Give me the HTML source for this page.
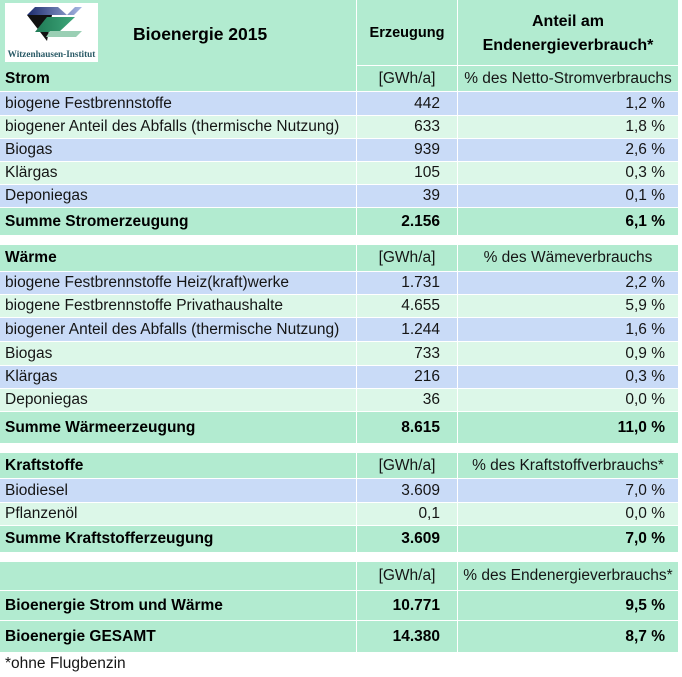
<!DOCTYPE html>
<html>
<head>
<meta charset="utf-8">
<style>
html,body{margin:0;padding:0;background:#fff;}
body{width:682px;height:677px;position:relative;overflow:hidden;font-family:"Liberation Sans",Arial,sans-serif;}
.c{position:absolute;box-sizing:border-box;white-space:nowrap;display:flex;align-items:center;font-size:15.5px;color:#151515;}
.g{background:#b2ebd0;}
.b{background:#c9dbf7;}
.lg{background:#dcf7e8;}
.l{padding-left:5px;}
.n{justify-content:flex-end;padding-right:17px;}
.p{justify-content:flex-end;padding-right:13px;}
.ce{justify-content:center;}
.bd{font-weight:bold;color:#000;}
.c1{left:0;width:356px;}
.c2{left:357px;width:100px;}
.c3{left:458px;width:220px;}
</style>
</head>
<body>

<!-- Header -->
<div class="c g c1" style="top:0;height:91px;"></div>
<div style="position:absolute;left:5px;top:3px;width:93px;height:59px;background:#fff;">
<svg width="93" height="59" viewBox="0 0 93 59">
<defs>
<linearGradient id="bl" x1="0" y1="0" x2="1" y2="0">
<stop offset="0" stop-color="#1b2a6b"/><stop offset="1" stop-color="#a8b8e4"/>
</linearGradient>
<linearGradient id="gr" x1="0" y1="0" x2="1" y2="0">
<stop offset="0" stop-color="#1f7a55"/><stop offset="1" stop-color="#3fa77a"/>
</linearGradient>
</defs>
<polygon points="30,4 77,4 69,12 22,12" fill="url(#bl)"/>
<polygon points="53,4 70,4 62,12" fill="#fff"/>
<polygon points="22,12 47,12 42,38" fill="#111"/>
<polygon points="42,14 70,14 54,29 30,29" fill="url(#gr)"/>
<polygon points="45,28 77,28 71,34 41,34" fill="#9acfb4"/>
<text x="46.5" y="54" text-anchor="middle" font-family="Liberation Serif" font-size="9.2" font-weight="bold" fill="#2a5a66">Witzenhausen-Institut</text>
</svg>
</div>
<div class="c bd" style="left:133px;top:20px;height:28px;font-size:17.5px;">Bioenergie 2015</div>
<div class="c g c2 ce bd" style="top:0;height:65px;font-size:14.5px;">Erzeugung</div>
<div class="c g c3 bd" style="top:0;height:65px;font-size:16px;flex-direction:column;justify-content:center;line-height:24px;padding-top:2px;"><div>Anteil am</div><div>Endenergieverbrauch*</div></div>

<!-- Strom -->
<div class="c l bd" style="left:0;top:66px;height:25px;">Strom</div>
<div class="c g c2 ce" style="top:66px;height:25px;">[GWh/a]</div>
<div class="c g c3 ce" style="top:66px;height:25px;">% des Netto-Stromverbrauchs</div>

<div class="c b c1 l" style="top:92px;height:23px;">biogene Festbrennstoffe</div>
<div class="c b c2 n" style="top:92px;height:23px;">442</div>
<div class="c b c3 p" style="top:92px;height:23px;">1,2 %</div>

<div class="c lg c1 l" style="top:116px;height:22px;">biogener Anteil des Abfalls (thermische Nutzung)</div>
<div class="c lg c2 n" style="top:116px;height:22px;">633</div>
<div class="c lg c3 p" style="top:116px;height:22px;">1,8 %</div>

<div class="c b c1 l" style="top:139px;height:22px;">Biogas</div>
<div class="c b c2 n" style="top:139px;height:22px;">939</div>
<div class="c b c3 p" style="top:139px;height:22px;">2,6 %</div>

<div class="c lg c1 l" style="top:162px;height:22px;">Klärgas</div>
<div class="c lg c2 n" style="top:162px;height:22px;">105</div>
<div class="c lg c3 p" style="top:162px;height:22px;">0,3 %</div>

<div class="c b c1 l" style="top:185px;height:22px;">Deponiegas</div>
<div class="c b c2 n" style="top:185px;height:22px;">39</div>
<div class="c b c3 p" style="top:185px;height:22px;">0,1 %</div>

<div class="c g c1 l bd" style="top:208px;height:27px;">Summe Stromerzeugung</div>
<div class="c g c2 n bd" style="top:208px;height:27px;">2.156</div>
<div class="c g c3 p bd" style="top:208px;height:27px;">6,1 %</div>

<!-- Wärme -->
<div class="c g c1 l bd" style="top:245px;height:26px;">Wärme</div>
<div class="c g c2 ce" style="top:245px;height:26px;">[GWh/a]</div>
<div class="c g c3 ce" style="top:245px;height:26px;">% des Wämeverbrauchs</div>

<div class="c b c1 l" style="top:272px;height:22px;">biogene Festbrennstoffe Heiz(kraft)werke</div>
<div class="c b c2 n" style="top:272px;height:22px;">1.731</div>
<div class="c b c3 p" style="top:272px;height:22px;">2,2 %</div>

<div class="c lg c1 l" style="top:295px;height:22px;">biogene Festbrennstoffe Privathaushalte</div>
<div class="c lg c2 n" style="top:295px;height:22px;">4.655</div>
<div class="c lg c3 p" style="top:295px;height:22px;">5,9 %</div>

<div class="c b c1 l" style="top:318px;height:23px;">biogener Anteil des Abfalls (thermische Nutzung)</div>
<div class="c b c2 n" style="top:318px;height:23px;">1.244</div>
<div class="c b c3 p" style="top:318px;height:23px;">1,6 %</div>

<div class="c lg c1 l" style="top:342px;height:23px;">Biogas</div>
<div class="c lg c2 n" style="top:342px;height:23px;">733</div>
<div class="c lg c3 p" style="top:342px;height:23px;">0,9 %</div>

<div class="c b c1 l" style="top:366px;height:22px;">Klärgas</div>
<div class="c b c2 n" style="top:366px;height:22px;">216</div>
<div class="c b c3 p" style="top:366px;height:22px;">0,3 %</div>

<div class="c lg c1 l" style="top:389px;height:22px;">Deponiegas</div>
<div class="c lg c2 n" style="top:389px;height:22px;">36</div>
<div class="c lg c3 p" style="top:389px;height:22px;">0,0 %</div>

<div class="c g c1 l bd" style="top:412px;height:31px;">Summe Wärmeerzeugung</div>
<div class="c g c2 n bd" style="top:412px;height:31px;">8.615</div>
<div class="c g c3 p bd" style="top:412px;height:31px;">11,0 %</div>

<!-- Kraftstoffe -->
<div class="c g c1 l bd" style="top:453px;height:25px;">Kraftstoffe</div>
<div class="c g c2 ce" style="top:453px;height:25px;">[GWh/a]</div>
<div class="c g c3 ce" style="top:453px;height:25px;">% des Kraftstoffverbrauchs*</div>

<div class="c b c1 l" style="top:479px;height:23px;">Biodiesel</div>
<div class="c b c2 n" style="top:479px;height:23px;">3.609</div>
<div class="c b c3 p" style="top:479px;height:23px;">7,0 %</div>

<div class="c lg c1 l" style="top:503px;height:22px;">Pflanzenöl</div>
<div class="c lg c2 n" style="top:503px;height:22px;">0,1</div>
<div class="c lg c3 p" style="top:503px;height:22px;">0,0 %</div>

<div class="c g c1 l bd" style="top:526px;height:26px;">Summe Kraftstofferzeugung</div>
<div class="c g c2 n bd" style="top:526px;height:26px;">3.609</div>
<div class="c g c3 p bd" style="top:526px;height:26px;">7,0 %</div>

<!-- Gesamt -->
<div class="c g c1" style="top:562px;height:28px;"></div>
<div class="c g c2 ce" style="top:562px;height:28px;">[GWh/a]</div>
<div class="c g c3 ce" style="top:562px;height:28px;">% des Endenergieverbrauchs*</div>

<div class="c g c1 l bd" style="top:591px;height:29px;">Bioenergie Strom und Wärme</div>
<div class="c g c2 n bd" style="top:591px;height:29px;">10.771</div>
<div class="c g c3 p bd" style="top:591px;height:29px;">9,5 %</div>

<div class="c g c1 l bd" style="top:621px;height:31px;">Bioenergie GESAMT</div>
<div class="c g c2 n bd" style="top:621px;height:31px;">14.380</div>
<div class="c g c3 p bd" style="top:621px;height:31px;">8,7 %</div>

<div class="c l" style="left:0;top:654px;height:20px;">*ohne Flugbenzin</div>

</body>
</html>
